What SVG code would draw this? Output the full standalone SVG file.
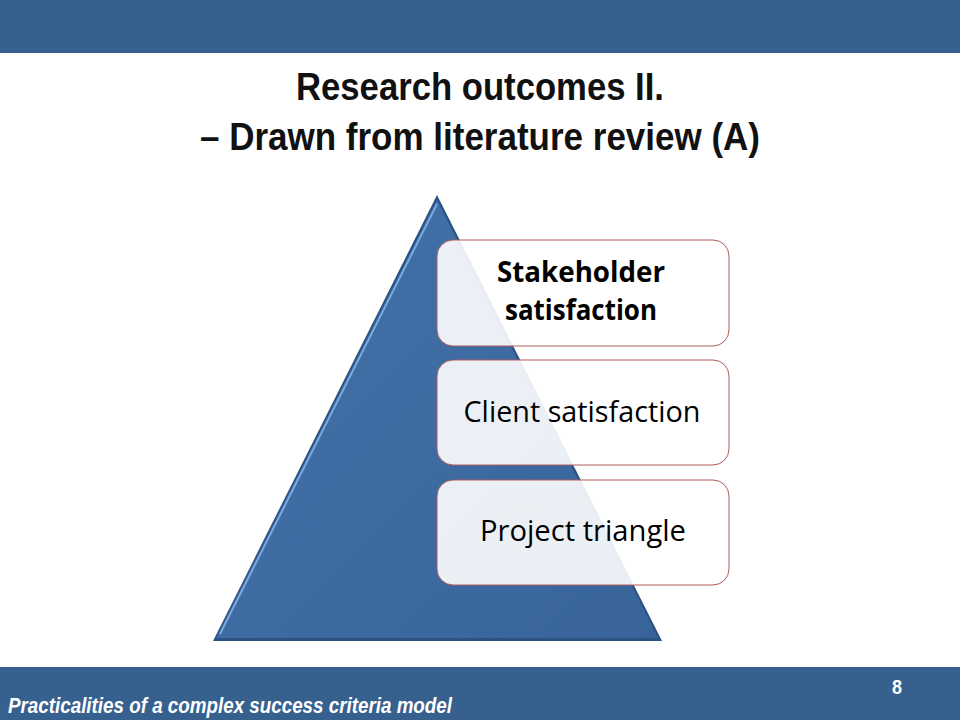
<svg xmlns="http://www.w3.org/2000/svg" width="960" height="720" viewBox="0 0 960 720">
<defs>
<linearGradient id="tri" x1="0" y1="0" x2="1" y2="1">
<stop offset="0" stop-color="#4272aa"/>
<stop offset="1" stop-color="#38649a"/>
</linearGradient>
<linearGradient id="box" x1="0" y1="0" x2="0" y2="1">
<stop offset="0" stop-color="#ffffff" stop-opacity="0.9"/>
<stop offset="1" stop-color="#ffffff" stop-opacity="0.9"/>
</linearGradient>
<style>
.bar{fill:#36618f}
.title{font-family:"Liberation Sans",Arial,sans-serif;font-weight:bold;font-size:39px;fill:#111;text-anchor:middle}
.box{fill:url(#box);stroke:#b05a5a;stroke-width:1}
.lbl{font-family:"Open Sans","Noto Sans",sans-serif;font-size:29px;fill:#000;text-anchor:middle}
.foot{font-family:"Liberation Sans",Arial,sans-serif;font-weight:bold;font-style:italic;font-size:22px;fill:#fff}
.num{font-family:"Liberation Sans",Arial,sans-serif;font-weight:bold;font-size:20px;fill:#fff;text-anchor:middle}
</style>
</defs>
<rect width="960" height="720" fill="#fff"/>
<rect class="bar" x="0" y="0" width="960" height="53"/>
<rect class="bar" x="0" y="667" width="960" height="53"/>
<text class="title" x="480" y="100" textLength="368" lengthAdjust="spacingAndGlyphs">Research outcomes II.</text>
<text class="title" x="480" y="150" textLength="560" lengthAdjust="spacingAndGlyphs">– Drawn from literature review (A)</text>
<g id="pyramid">
<polygon points="437,195 662,641 213,641" fill="#2c5282"/>
<polygon points="437,200 658,638 216,638" fill="url(#tri)"/>
<polyline points="220,634 437,204" fill="none" stroke="#7aa8dc" stroke-width="2"/>
</g>
<g id="stakeholder">
<rect class="box" x="437" y="240" width="292" height="106" rx="16"/>
<text class="lbl" x="581" y="282" font-weight="bold" font-size="25.5" textLength="168" lengthAdjust="spacingAndGlyphs">Stakeholder</text>
<text class="lbl" x="581" y="320" font-weight="bold" font-size="25.5" textLength="152" lengthAdjust="spacingAndGlyphs">satisfaction</text>
</g>
<g id="client">
<rect class="box" x="437" y="360" width="292" height="105" rx="16"/>
<text class="lbl" x="582" y="422" textLength="237" lengthAdjust="spacingAndGlyphs">Client satisfaction</text>
</g>
<g id="project">
<rect class="box" x="437" y="480" width="292" height="105" rx="16"/>
<text class="lbl" x="583" y="541" textLength="206" lengthAdjust="spacingAndGlyphs">Project triangle</text>
</g>
<g id="connectors"></g>
<text class="foot" x="8" y="713" textLength="444" lengthAdjust="spacingAndGlyphs">Practicalities of a complex success criteria model</text>
<text class="num" x="897" y="694" textLength="10" lengthAdjust="spacingAndGlyphs">8</text>
</svg>
